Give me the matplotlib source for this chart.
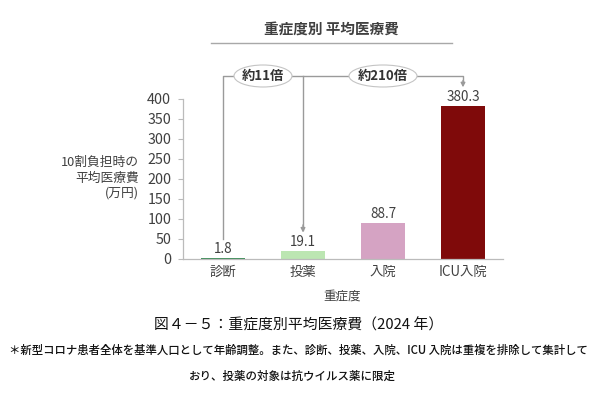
import matplotlib
matplotlib.use("Agg")
import matplotlib.pyplot as plt
from matplotlib.patches import Ellipse

plt.rcParams['font.family'] = ['Noto Sans CJK JP', 'DejaVu Sans']

categories = ['診断', '投薬', '入院', 'ICU入院']
values = [1.8, 19.1, 88.7, 380.3]
labels = ['1.8', '19.1', '88.7', '380.3']
colors = ['#3f8f5a', '#bce6b2', '#d5a3c3', '#7f0a0a']
yticks = [0, 50, 100, 150, 200, 250, 300, 350, 400]
GREY = '#404040'
LINE = '#9a9a9a'

W, H = 600, 400
fig = plt.figure(figsize=(6, 4), dpi=100, facecolor='white')
ax = fig.add_axes([183 / W, (H - 259) / H, 320 / W, 160.5 / H])
ax.bar(range(4), values, width=0.55, color=colors)
ax.set_xlim(-0.5, 3.5)
ax.set_ylim(0, 400)
ax.set_yticks(yticks)
ax.set_xticks(range(4))
ax.set_xticklabels(categories)
ax.tick_params(axis='y', length=3.5, width=0.8, color='#bbbbbb', labelcolor=GREY, labelsize=10.3, pad=5)
ax.tick_params(axis='x', length=0, labelcolor=GREY, labelsize=9.6, pad=4.5)
for s in ('top', 'right'):
    ax.spines[s].set_visible(False)
for s in ('left', 'bottom'):
    ax.spines[s].set_color('#bbbbbb')
    ax.spines[s].set_linewidth(0.9)

for i, (v, t) in enumerate(zip(values, labels)):
    ax.annotate(t, (i, v), xytext=(0, 1.5), textcoords='offset points', ha='center', va='bottom',
                fontsize=9.7, color=GREY)


def fx(px):
    return px / W


def fy(py):
    return 1 - py / H


# comparison connector
top = 456
ax.plot([0, 0, 2.0], [50, top, top], color=LINE, lw=1.0, clip_on=False, zorder=1)
ax.plot([1, 1], [72, top], color=LINE, lw=1.0, clip_on=False, zorder=1)
ax.plot([2.0, 3, 3], [top, top, 440], color=LINE, lw=1.0, clip_on=False, zorder=1)
ax.annotate('', xy=(1, 66), xytext=(1, 85), annotation_clip=False,
            arrowprops=dict(arrowstyle='-|>,head_width=0.13,head_length=0.25', color=LINE, lw=1.0, shrinkA=0, shrinkB=0))
ax.annotate('', xy=(3, 428), xytext=(3, 445), annotation_clip=False,
            arrowprops=dict(arrowstyle='-|>,head_width=0.13,head_length=0.25', color=LINE, lw=1.0, shrinkA=0, shrinkB=0))

for cx, w, txt in [(263, 58, '約11倍'), (383, 68, '約210倍')]:
    fig.add_artist(Ellipse((fx(cx), fy(76)), w / W, 22 / H, transform=fig.transFigure,
                           facecolor='white', edgecolor='#c4c4c4', lw=0.8, zorder=3))
    fig.text(fx(cx), fy(76), txt, ha='center', va='center', fontsize=9.5, color='#333333',
             fontweight='bold', zorder=4)

# header
fig.text(fx(331.5), fy(29), '重症度別 平均医療費', ha='center', va='center', fontsize=10.5,
         fontweight='bold', color=GREY)
fig.add_artist(plt.Line2D([fx(211), fx(452)], [fy(43), fy(43)], color='#a8a8a8', lw=1.0))

# axis titles
fig.text(fx(139), fy(178), '10割負担時の\n平均医療費\n(万円)', ha='right', va='center', fontsize=9.2,
         color=GREY, linespacing=1.25)
fig.text(fx(342), fy(296), '重症度', ha='center', va='center', fontsize=9, color=GREY)

# caption
fig.text(fx(299), fy(325), '図４－５：重症度別平均医療費（2024 年）', ha='center', va='center', fontsize=10.7,
         color='#111111')
fig.text(fx(298), fy(350.5), '＊新型コロナ患者全体を基準人口として年齢調整。また、診断、投薬、入院、ICU 入院は重複を排除して集計して',
         ha='center', va='center', fontsize=8.2, color='#111111', fontweight='medium')
fig.text(fx(292), fy(376), 'おり、投薬の対象は抗ウイルス薬に限定', ha='center', va='center', fontsize=8.25,
         color='#111111', fontweight='medium')

fig.savefig('out.png', dpi=100)
